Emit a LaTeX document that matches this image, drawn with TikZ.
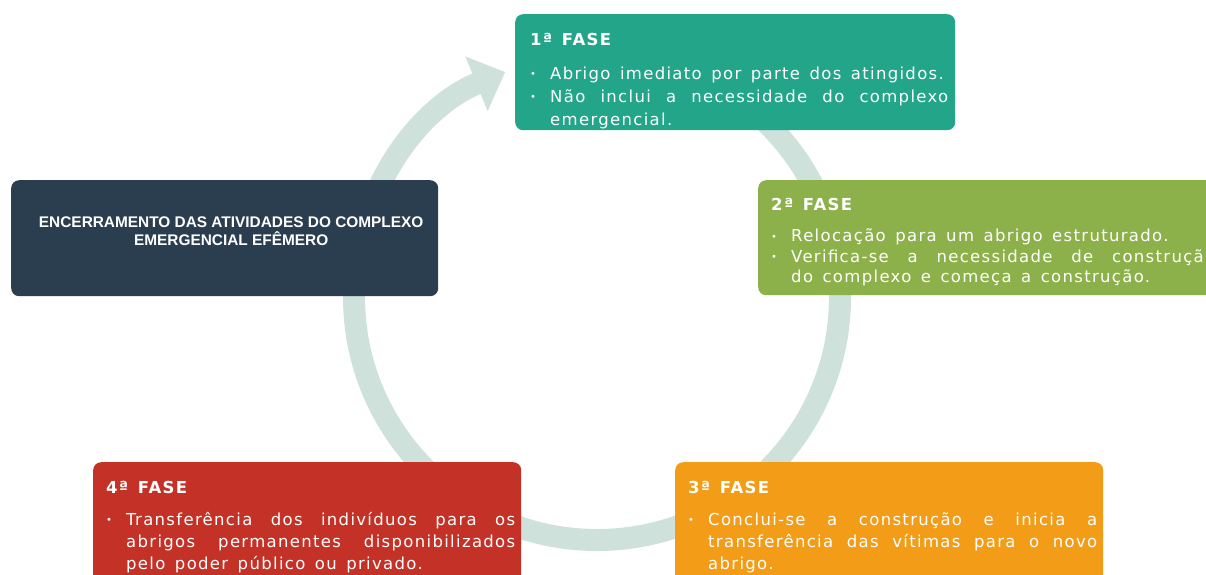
\documentclass[tikz,border=0pt]{standalone}
\usepackage{fontspec}
\newfontfamily\fasefont{DejaVu Sans}[LetterSpace=8]
\newfontfamily\encfont{Liberation Sans}
\usepackage{tikz}
\usetikzlibrary{arrows.meta,positioning}

\definecolor{verdeagua}{HTML}{22A589}
\definecolor{verde}{HTML}{8DB14A}
\definecolor{laranja}{HTML}{F39C17}
\definecolor{vermelho}{HTML}{C43126}
\definecolor{azulescuro}{HTML}{2B3E50}
\definecolor{anel}{HTML}{CFE1DB}

\newcommand{\marca}{\par\hangindent=20pt\hangafter=1\noindent\makebox[20pt][l]{\raisebox{1.5pt}{\fontsize{10}{10}\selectfont\textbullet}}}
\newcommand{\fasetexto}{\fasefont\fontsize{16.5}{22}\selectfont\spaceskip=9.5pt plus 30pt minus 1pt\tolerance=10000\hbadness=10000\relax}

\tikzset{
  caixa/.style={rounded corners=8pt, anchor=north west, inner sep=0pt, minimum height=116pt},
  texto/.style={anchor=north west, inner sep=0pt, align=justify, text=white, font=\fasetexto},
}

\begin{document}
\begin{tikzpicture}[x=1pt,y=1pt]
\useasboundingbox (0,0) rectangle (1206,-574);
\clip (0,0) rectangle (1206,-574);
\fill[white] (0,0) rectangle (1206,-574);

\draw[anel, line width=22pt, -{Triangle[width=57pt,length=31pt]}] (597,-297) ++(90:243) arc[start angle=90, end angle=-247.8, radius=243];

\node[caixa, fill=verdeagua, minimum width=440pt] (fase1) at (515,-14) {};
\node[texto, text width=418pt] (fase1txt) at ([xshift=15pt,yshift=-19pt]fase1.north west)
  {\baselineskip=23pt\noindent{\bfseries 1ª FASE}\par\vspace{11pt}
   \marca Abrigo imediato por parte dos atingidos.
   \marca Não inclui a necessidade do complexo\linebreak emergencial.\par};

\node[caixa, fill=verde, minimum width=470pt, minimum height=115pt] (fase2) at (758,-180) {};
\node[texto, text width=444pt] (fase2txt) at ([xshift=13pt,yshift=-18pt]fase2.north west)
  {\baselineskip=20.5pt\noindent{\bfseries 2ª FASE}\par\vspace{11pt}
   \marca Relocação para um abrigo estruturado.
   \marca Verifica-se a necessidade de construção\linebreak do complexo e começa a construção.\par};

\node[caixa, fill=laranja, minimum width=428pt, minimum height=130pt] (fase3) at (675,-462) {};
\node[texto, text width=409pt] (fase3txt) at ([xshift=13pt,yshift=-19pt]fase3.north west)
  {\noindent{\bfseries 3ª FASE}\par\vspace{10pt}
   \marca Conclui-se a construção e inicia a\linebreak transferência das vítimas para o novo\linebreak abrigo.\par};

\node[caixa, fill=vermelho, minimum width=428pt, minimum height=130pt] (fase4) at (93,-462) {};
\node[texto, text width=409pt] (fase4txt) at ([xshift=13pt,yshift=-19pt]fase4.north west)
  {\noindent{\bfseries 4ª FASE}\par\vspace{10pt}
   \marca Transferência dos indivíduos para os\linebreak abrigos permanentes disponibilizados\linebreak pelo poder público ou privado.\par};

\node[caixa, fill=azulescuro, minimum width=427pt] (encerramento) at (11,-180) {};
\node[inner sep=0pt, align=center, text=white, font=\encfont\bfseries\fontsize{15.4}{18}\selectfont]
  (encerramentotxt) at ([xshift=6.5pt,yshift=7pt]encerramento.center)
  {ENCERRAMENTO DAS ATIVIDADES DO COMPLEXO\\EMERGENCIAL EFÊMERO};
\end{tikzpicture}
\end{document}
